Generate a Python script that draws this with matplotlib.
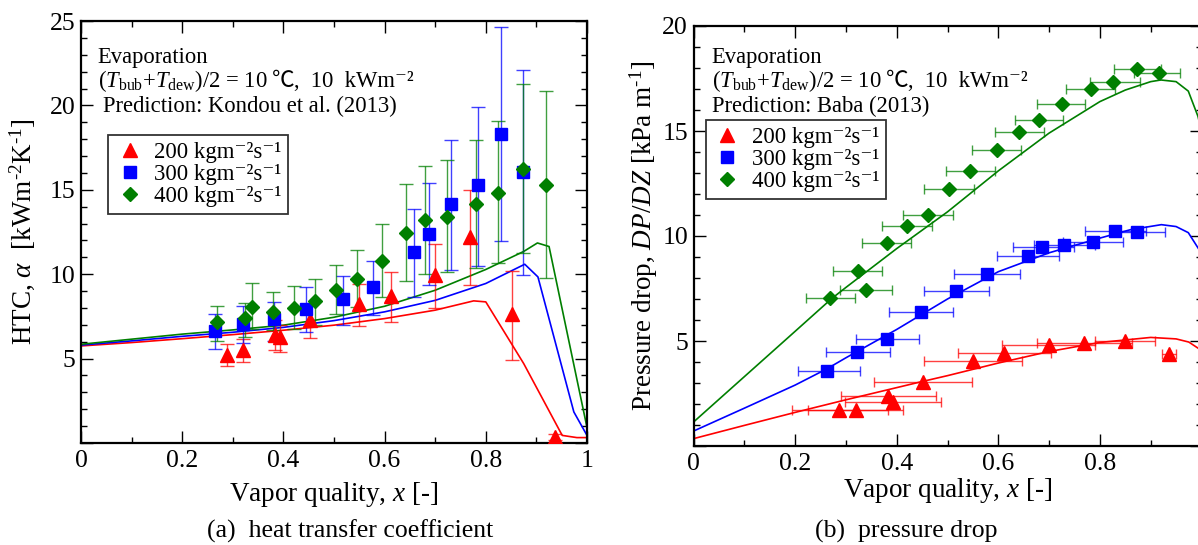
import matplotlib
matplotlib.use("Agg")
import matplotlib.pyplot as plt
from matplotlib.lines import Line2D
from matplotlib.ticker import MultipleLocator

plt.rcParams['font.family'] = ['Liberation Serif', 'DejaVu Serif', 'DejaVu Sans']
plt.rcParams['mathtext.fontset'] = 'custom'
plt.rcParams['mathtext.rm'] = 'Liberation Serif'
plt.rcParams['mathtext.it'] = 'Liberation Serif:italic'
plt.rcParams['mathtext.bf'] = 'Liberation Serif:bold'

# ---------------- (a) heat transfer coefficient ----------------
x200_h = [0.288, 0.321, 0.383, 0.394, 0.453, 0.549, 0.613, 0.700, 0.768, 0.851, 0.936]
y200_h = [5.22, 5.50, 6.42, 6.30, 7.30, 8.22, 8.70, 9.95, 12.22, 7.63, 0.36]
lo200_h = [4.56, 4.81, 5.49, 5.40, 6.20, 6.95, 7.15, 8.02, 9.34, 4.92, 0.20]
hi200_h = [5.84, 6.14, 7.27, 6.98, 8.22, 9.42, 10.13, 11.81, 14.99, 10.21, 0.55]

x300_h = [0.264, 0.321, 0.381, 0.445, 0.518, 0.577, 0.658, 0.688, 0.732, 0.785, 0.830, 0.874]
y300_h = [6.66, 7.06, 7.35, 7.96, 8.53, 9.25, 11.29, 12.36, 14.17, 15.26, 18.30, 16.08]
lo300_h = [5.55, 5.94, 6.07, 6.58, 7.02, 7.58, 8.62, 9.34, 10.27, 10.47, 11.94, 9.96]
hi300_h = [7.62, 8.10, 8.38, 9.27, 9.88, 10.80, 13.86, 15.40, 17.97, 19.92, 24.65, 22.07]

x400_h = [0.269, 0.325, 0.338, 0.379, 0.420, 0.462, 0.503, 0.545, 0.594, 0.643, 0.679, 0.723, 0.781, 0.824, 0.874, 0.919]
y400_h = [7.15, 7.39, 8.07, 7.79, 8.02, 8.39, 9.06, 9.69, 10.79, 12.46, 13.20, 13.41, 14.13, 14.83, 16.22, 15.27]
lo400_h = [6.06, 6.30, 6.78, 6.71, 6.76, 6.98, 7.62, 8.07, 8.62, 9.59, 10.00, 10.12, 10.37, 10.68, 11.23, 9.75]
hi400_h = [8.14, 8.30, 9.45, 8.92, 9.29, 9.70, 10.52, 11.44, 12.98, 15.34, 16.43, 16.78, 17.97, 19.10, 21.25, 20.83]

xr_h = [0, 0.1, 0.2, 0.3, 0.4, 0.5, 0.6, 0.7, 0.776, 0.8, 0.875, 0.951, 0.98, 1.0]
yr_h = [5.75, 5.95, 6.18, 6.42, 6.68, 6.98, 7.37, 7.87, 8.42, 8.36, 4.70, 0.45, 0.32, 0.32]
xb_h = [0, 0.1, 0.2, 0.3, 0.4, 0.5, 0.6, 0.7, 0.8, 0.877, 0.903, 0.974, 1.0]
yb_h = [5.80, 6.05, 6.32, 6.56, 6.85, 7.25, 7.77, 8.45, 9.45, 10.59, 9.84, 1.84, 0.45]
xg_h = [0, 0.1, 0.2, 0.3, 0.4, 0.5, 0.6, 0.7, 0.8, 0.875, 0.902, 0.925, 1.0]
yg_h = [5.85, 6.15, 6.45, 6.70, 6.98, 7.45, 8.10, 9.05, 10.28, 11.35, 11.85, 11.64, 0.92]

# ---------------- (b) pressure drop ----------------
x200_p = [0.287, 0.320, 0.383, 0.392, 0.451, 0.550, 0.612, 0.700, 0.768, 0.850, 0.936]
y200_p = [1.72, 1.72, 2.37, 2.10, 3.07, 4.04, 4.44, 4.80, 4.91, 5.02, 4.38]
xlo200_p = [0.193, 0.225, 0.291, 0.298, 0.355, 0.454, 0.521, 0.607, 0.676, 0.791, 0.922]
xhi200_p = [0.382, 0.413, 0.478, 0.488, 0.548, 0.647, 0.703, 0.791, 0.863, 0.909, 0.949]

x300_p = [0.263, 0.321, 0.381, 0.447, 0.517, 0.577, 0.659, 0.687, 0.730, 0.786, 0.830, 0.873]
y300_p = [3.56, 4.47, 5.08, 6.40, 7.39, 8.19, 9.05, 9.46, 9.55, 9.71, 10.24, 10.21]
xlo300_p = [0.206, 0.260, 0.320, 0.384, 0.454, 0.513, 0.598, 0.628, 0.670, 0.728, 0.770, 0.820]
xhi300_p = [0.327, 0.386, 0.443, 0.510, 0.582, 0.643, 0.719, 0.749, 0.790, 0.846, 0.891, 0.928]

x400_p = [0.269, 0.324, 0.339, 0.380, 0.421, 0.462, 0.503, 0.544, 0.597, 0.641, 0.681, 0.725, 0.783, 0.826, 0.873, 0.916]
y400_p = [7.03, 8.34, 7.44, 9.68, 10.50, 10.98, 12.24, 13.10, 14.09, 14.95, 15.53, 16.28, 16.99, 17.32, 17.93, 17.77]
xlo400_p = [0.222, 0.274, 0.288, 0.331, 0.372, 0.413, 0.454, 0.498, 0.548, 0.593, 0.633, 0.676, 0.734, 0.781, 0.828, 0.867]
xhi400_p = [0.318, 0.372, 0.391, 0.428, 0.469, 0.511, 0.552, 0.593, 0.644, 0.689, 0.728, 0.770, 0.830, 0.879, 0.920, 0.958]

xr_p = [0, 0.1, 0.2, 0.3, 0.4, 0.45, 0.5, 0.6, 0.7, 0.8, 0.9, 0.95, 0.975, 1.0]
yr_p = [0.35, 0.98, 1.60, 2.20, 2.78, 3.07, 3.35, 3.95, 4.50, 4.93, 5.17, 5.10, 4.95, 4.55]
xb_p = [0, 0.1, 0.2, 0.263, 0.3, 0.4, 0.5, 0.6, 0.7, 0.8, 0.86, 0.921, 0.95, 0.974, 0.994, 1.0]
yb_p = [0.71, 1.80, 2.90, 3.68, 4.20, 5.55, 7.00, 8.30, 9.20, 9.90, 10.30, 10.54, 10.45, 10.16, 9.40, 9.20]
xg_p = [0, 0.1, 0.2, 0.272, 0.3, 0.4, 0.5, 0.6, 0.7, 0.8, 0.85, 0.9, 0.92, 0.95, 0.974, 0.993, 1.0]
yg_p = [1.14, 3.30, 5.46, 7.02, 7.55, 9.40, 11.15, 13.10, 14.90, 16.40, 16.95, 17.35, 17.43, 17.35, 16.90, 15.70, 15.00]

xticklabels_a = ['0', '0.2', '0.4', '0.6', '0.8', '1']
xticklabels_b = ['0', '0.2', '0.4', '0.6', '0.8', '']
series_labels = ['200 kgm\u207b\u00b2s\u207b\u00b9', '300 kgm\u207b\u00b2s\u207b\u00b9',
                 '400 kgm\u207b\u00b2s\u207b\u00b9']

RED, BLUE, GREEN = '#ff0000', '#0000ff', '#007f00'
MK = [('^', 10, RED), ('s', 8.5, BLUE), ('D', 7.2, GREEN)]

W, H = 1198, 545
fig = plt.figure(figsize=(W / 100, H / 100), dpi=100)
ax1 = fig.add_axes([81 / W, 1 - 443 / H, 506 / W, 422 / H])
ax2 = fig.add_axes([693.5 / W, 1 - 446 / H, 508 / W, 420 / H])

TICK = 18.5
for ax, xl in ((ax1, xticklabels_a), (ax2, xticklabels_b)):
    ax.set_xlim(0, 1)
    ax.set_xticks([0, 0.2, 0.4, 0.6, 0.8, 1.0])
    ax.set_xticklabels(xl)
    ax.xaxis.set_minor_locator(MultipleLocator(0.1))
    ax.yaxis.set_minor_locator(MultipleLocator(1))
    ax.tick_params(which='both', direction='in', top=True, right=True, labelsize=TICK, width=1.0)
    ax.tick_params(which='major', length=8.5)
    ax.tick_params(which='minor', length=4)
    ax.tick_params(axis='x', pad=5)
    ax.tick_params(axis='y', pad=4)
    for s in ax.spines.values():
        s.set_linewidth(1.6)

ax1.set_ylim(0, 25)
ax1.set_yticks([0, 5, 10, 15, 20, 25])
ax1.set_yticklabels(['', '5', '10', '15', '20', '25'])
ax2.set_ylim(0, 20)
ax2.set_yticks([0, 5, 10, 15, 20])
ax2.set_yticklabels(['', '5', '10', '15', '20'])

# --- (a) ---
for xl, yl, c in [(xr_h, yr_h, RED), (xb_h, yb_h, BLUE), (xg_h, yg_h, GREEN)]:
    ax1.plot(xl, yl, color=c, lw=1.2, zorder=2)
for (xs, ys, lo, hi), (m, ms, c) in zip(
        [(x200_h, y200_h, lo200_h, hi200_h), (x300_h, y300_h, lo300_h, hi300_h),
         (x400_h, y400_h, lo400_h, hi400_h)], MK):
    yerr = [[y - l for y, l in zip(ys, lo)], [h - y for y, h in zip(ys, hi)]]
    ax1.errorbar(xs, ys, yerr=yerr, fmt='none', ecolor=c, elinewidth=1.0,
                 capsize=4.8, capthick=1.0, alpha=0.75, zorder=3)
    ax1.plot(xs, ys, ls='none', marker=m, ms=ms, color=c, mec=c, zorder=4)

# --- (b) ---
for xl, yl, c in [(xr_p, yr_p, RED), (xb_p, yb_p, BLUE), (xg_p, yg_p, GREEN)]:
    ax2.plot(xl, yl, color=c, lw=1.2, zorder=2)
for (xs, ys, lo, hi), (m, ms, c) in zip(
        [(x200_p, y200_p, xlo200_p, xhi200_p), (x300_p, y300_p, xlo300_p, xhi300_p),
         (x400_p, y400_p, xlo400_p, xhi400_p)], MK):
    xerr = [[x - l for x, l in zip(xs, lo)], [h - x for x, h in zip(xs, hi)]]
    ax2.errorbar(xs, ys, xerr=xerr, fmt='none', ecolor=c, elinewidth=1.0,
                 capsize=3.6, capthick=1.0, alpha=0.75, zorder=3)
    ax2.plot(xs, ys, ls='none', marker=m, ms=ms, color=c, mec=c, zorder=4)

# labels
LAB = 19.5
ax1.set_xlabel(r'Vapor quality, $x$ [-]', fontsize=LAB, va='center')
ax1.xaxis.set_label_coords(0.5, -0.123)
ax1.set_ylabel('HTC, $\\alpha$  [kWm$^{\u2010 2}$K$^{\u2010 1}$]', fontsize=LAB, va='center')
ax1.yaxis.set_label_coords(-0.1166, 0.5)
ax2.set_xlabel(r'Vapor quality, $x$ [-]', fontsize=LAB, va='center')
ax2.xaxis.set_label_coords(0.5, -0.105)
ax2.set_ylabel('Pressure drop, $DP/DZ$ [kPa m$^{\u2010 1}$]', fontsize=LAB, va='center')
ax2.yaxis.set_label_coords(-0.0974, 0.5)

# annotations
ANN = 16.3
renderer = fig.canvas.get_renderer()


def chain(ax, x, y, parts):
    """Place text pieces one after another on a common baseline."""
    for s, fam, gap in parts:
        kw = {} if fam is None else {'family': fam}
        t = ax.text(x, y, s, transform=ax.transAxes, fontsize=ANN, va='baseline', **kw)
        bb = t.get_window_extent(renderer)
        x = ax.transAxes.inverted().transform((bb.x1 + gap, 0))[0]


cond_parts = [(r'($T_{\rm bub}$+$T_{\rm dew}$)/2 = 10', None, 4),
              ('\u2103', ['Noto Sans CJK JP'], 0),
              (',  10  kWm\u207b\u00b2', None, 0)]

ax1.text(0.033, 0.9005, 'Evaporation', transform=ax1.transAxes, fontsize=ANN, va='baseline')
chain(ax1, 0.033, 0.8436, cond_parts)
ax1.text(0.043, 0.7844, 'Prediction: Kondou et al. (2013)', transform=ax1.transAxes, fontsize=ANN, va='baseline')
ax2.text(0.036, 0.911, 'Evaporation', transform=ax2.transAxes, fontsize=ANN, va='baseline')
chain(ax2, 0.036, 0.854, cond_parts)
ax2.text(0.036, 0.794, 'Prediction: Baba (2013)', transform=ax2.transAxes, fontsize=ANN, va='baseline')

# legends
handles = [Line2D([], [], ls='none', marker=m, ms=ms, color=c, mec=c) for m, ms, c in MK]
for ax, anchor in [(ax1, (0.054, 0.730)), (ax2, (0.0246, 0.777))]:
    leg = ax.legend(handles, series_labels, loc='upper left', bbox_to_anchor=anchor,
                    fontsize=16.5, frameon=True, fancybox=False, framealpha=1,
                    edgecolor='#333333', borderpad=0.3, labelspacing=0.05,
                    handlelength=1.25, handletextpad=0.45, borderaxespad=0)
    leg.get_frame().set_linewidth(1.3)

# captions
fig.text(350 / W, 1 - 531 / H, '(a)  heat transfer coefficient', fontsize=18.5, ha='center', va='center')
fig.text(906 / W, 1 - 531 / H, '(b)  pressure drop', fontsize=18.5, ha='center', va='center')

fig.savefig('out.png', dpi=100)
